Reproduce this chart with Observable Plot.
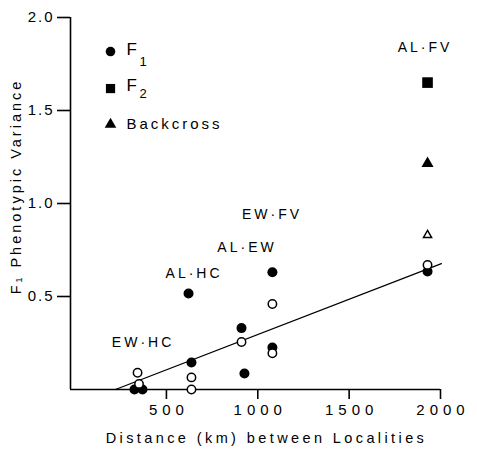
<!DOCTYPE html>
<html>
<head>
<meta charset="utf-8">
<script src="https://cdn.jsdelivr.net/npm/d3@7"></script>
<script src="https://cdn.jsdelivr.net/npm/@observablehq/plot@0.6"></script>
<style>
  html, body { margin: 0; padding: 0; background: white; }
</style>
</head>
<body>
<div id="chart"></div>
<script>
// Filled circles (F1)
const f1Dist = [325, 369, 637, 621, 911, 927, 1080, 1080, 1929];
const f1Var  = [0, 0, 0.145, 0.516, 0.33, 0.086, 0.63, 0.226, 0.634];
// Open circles
const openDist = [342, 350, 637, 637, 911, 1080, 1080, 1929];
const openVar  = [0.09, 0.03, 0.065, 0.0, 0.255, 0.46, 0.195, 0.67];
// F2 (square)
const f2Dist = [1929];
const f2Var  = [1.65];
// Backcross (filled triangle) and open triangle
const bcDist = [1929];
const bcVar  = [1.215];
const bcOpenDist = [1929];
const bcOpenVar  = [0.83];
// Regression line endpoints
const lineDist = [221, 2005];
const lineVar  = [0, 0.677];
// Pair labels
const pairLabels = ["AL·FV", "EW·FV", "AL·EW", "AL·HC", "EW·HC"];
const pairDist   = [1907, 1070, 933, 643, 364];
const pairVar    = [1.839, 0.941, 0.763, 0.624, 0.253];
// Legend
const legendSymbols = ["circle", "square", "triangle"];
const legendMain = ["F", "F", "Backcross"];
const legendSub  = ["1", "2", ""];
const legendSymVar = [1.817, 1.618, 1.425];
const legendTextVar = [1.828, 1.634, 1.425];
const legendSubVar = [1.763, 1.591, 0];
const legendSymDist = 194, legendTextDist = 281, legendSubDist = 352;
// Axes
const xTicks = [500, 1000, 1500, 2000];
const yTicks = [0.5, 1.0, 1.5, 2.0];
const xLabel = "Distance (km) between Localities";
const yLabel = "F\u2081 Phenotypic Variance";

const zip = (xs, ys) => xs.map((x, i) => ({x, y: ys[i]}));
const legendRows = legendSymbols.map((s, i) => ({
  symbol: s, main: legendMain[i], sub: legendSub[i],
  ys: legendSymVar[i], yt: legendTextVar[i], ysub: legendSubVar[i],
  size: s === "circle" ? 4.8 : s === "square" ? 5.2 : 4.3
}));

const chart = Plot.plot({
  width: 477,
  height: 450,
  marginLeft: 70,
  marginRight: 37,
  marginTop: 17,
  marginBottom: 61,
  style: {fontFamily: "'Liberation Sans', Arial, sans-serif", fontSize: "14px", letterSpacing: "3px", color: "black", background: "white"},
  x: {domain: [-25, 2000], ticks: xTicks, tickSize: 10, tickPadding: 5, label: null, tickFormat: d => String(d)},
  y: {domain: [0, 2], ticks: yTicks, tickSize: 13, tickPadding: 3, label: null, tickFormat: d => d.toFixed(1)},
  r: {type: "identity"},
  marks: [
    Plot.ruleX([-25], {strokeWidth: 1.6}),
    Plot.ruleY([0], {strokeWidth: 1.6}),
    Plot.line(zip(lineDist, lineVar), {x: "x", y: "y", stroke: "black", strokeWidth: 1.3}),
    Plot.dot(zip(f1Dist, f1Var), {x: "x", y: "y", r: 5, fill: "black", stroke: "none"}),
    Plot.dot(zip(openDist, openVar), {x: "x", y: "y", r: 4.2, fill: "white", stroke: "black", strokeWidth: 1.5}),
    Plot.dot(zip(f2Dist, f2Var), {x: "x", y: "y", r: 6, symbol: "square", fill: "black"}),
    Plot.dot(zip(bcDist, bcVar), {x: "x", y: "y", r: 4.5, symbol: "triangle", fill: "black"}),
    Plot.dot(zip(bcOpenDist, bcOpenVar), {x: "x", y: "y", r: 3, symbol: "triangle", fill: "white", stroke: "black", strokeWidth: 1.5}),
    Plot.text(pairLabels.map((t, i) => ({t, x: pairDist[i], y: pairVar[i]})), {x: "x", y: "y", text: "t", fontSize: 14, dx: 1.5}),
    // legend
    Plot.dot(legendRows, {x: () => legendSymDist, y: "ys", symbol: "symbol", r: "size", fill: "black"}),
    Plot.text(legendRows, {x: () => legendTextDist, y: "yt", text: "main", textAnchor: "start", fontSize: d => d.main.length > 2 ? 15 : 17}),
    Plot.text(legendRows.filter(d => d.sub), {x: () => legendSubDist, y: "ysub", text: "sub", textAnchor: "start", fontSize: 13}),
    // axis titles
    Plot.text([xLabel], {frameAnchor: "bottom", textAnchor: "middle", lineAnchor: "middle", dy: 49, dx: 11, fontSize: 14.5}),
    Plot.text([yLabel], {frameAnchor: "left", textAnchor: "middle", lineAnchor: "middle", rotate: -90, dx: -54, dy: -17, fontSize: 14.5})
  ]
});

const svg = d3.select(chart);
svg.selectAll('g[aria-label^="x-axis"]').style("font-size", "15px").style("letter-spacing", "5px");
svg.selectAll('g[aria-label="x-axis tick label"] text').attr("dx", 2.5);
svg.selectAll('g[aria-label^="y-axis"]').style("font-size", "15px").style("letter-spacing", "2px");
svg.selectAll('g[aria-label="x-axis tick"], g[aria-label="y-axis tick"]').style("stroke-width", "1.6px");
// letter spacing for the x-axis title
svg.selectAll('g[aria-label="text"] text').filter(function() { return this.textContent === xLabel; }).style("letter-spacing", "3.4px");
document.getElementById("chart").appendChild(chart);
</script>
</body>
</html>
